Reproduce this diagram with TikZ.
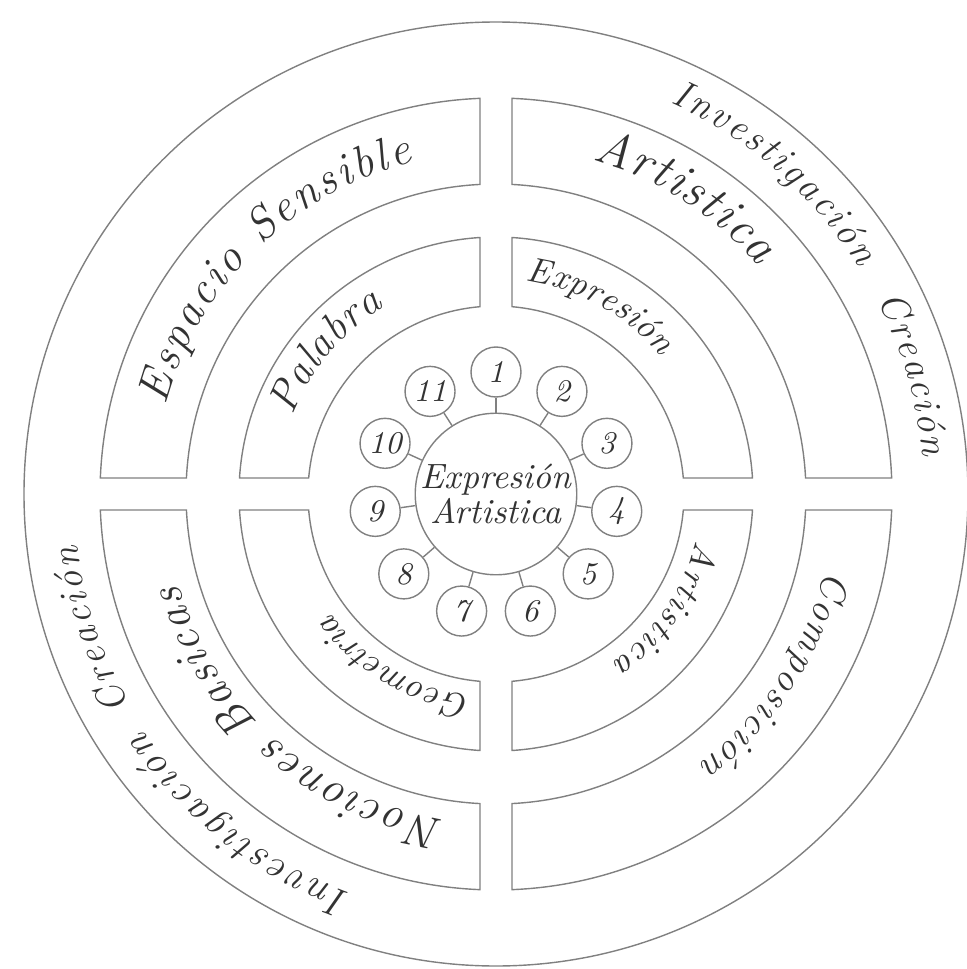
\documentclass[tikz,border=0pt]{standalone}
\usetikzlibrary{decorations.text}

\newcommand{\handsize}[1]{\fontsize{#1}{#1}\selectfont\itshape}

\begin{document}
\begin{tikzpicture}[
  ring/.style={draw=black!50, line width=0.4pt},
  numcirc/.style={circle, draw=black!50, line width=0.4pt, minimum size=0.5cm,
    inner sep=0pt, text=black!80, font=\handsize{9}},
  hub/.style={circle, draw=black!50, line width=0.4pt, minimum size=1.46cm,
    inner sep=0pt, align=center, text=black!80, font=\handsize{10}},
  arclabel/.style 2 args={decorate, decoration={text along path,
    text align=fit to path, text color=black!80, text={|\handsize{#1}|#2}}}
]

% Frame
\useasboundingbox (-4.96,-4.75) rectangle (4.70,4.94);

% Outer circle
\draw[ring] (0,0) circle (4.72);

% Quadrant pieces (outer ring and inner ring)
\foreach \a in {0,90,180,270} {
  \draw[ring] ({\a+acos(0.16/3.10)}:3.10) -- ({\a+acos(0.16/3.96)}:3.96)
    arc[start angle={\a+acos(0.16/3.96)}, end angle={\a+asin(0.16/3.96)}, radius=3.96]
    -- ({\a+asin(0.16/3.10)}:3.10)
    arc[start angle={\a+asin(0.16/3.10)}, end angle={\a+acos(0.16/3.10)}, radius=3.10]
    -- cycle;
  \draw[ring] ({\a+acos(0.16/1.88)}:1.88) -- ({\a+acos(0.16/2.57)}:2.57)
    arc[start angle={\a+acos(0.16/2.57)}, end angle={\a+asin(0.16/2.57)}, radius=2.57]
    -- ({\a+asin(0.16/1.88)}:1.88)
    arc[start angle={\a+asin(0.16/1.88)}, end angle={\a+acos(0.16/1.88)}, radius=1.88]
    -- cycle;
}

% Hub and numbered circles
\node[hub] (c) at (0,0) {Expresión\\Artistica};
\node[numcirc] (n1) at (90:1.22) {1};
\node[numcirc] (n2) at (57.27:1.22) {2};
\node[numcirc] (n3) at (24.55:1.22) {3};
\node[numcirc] (n4) at (-8.18:1.22) {4};
\node[numcirc] (n5) at (-40.91:1.22) {5};
\node[numcirc] (n6) at (-73.64:1.22) {6};
\node[numcirc] (n7) at (-106.36:1.22) {7};
\node[numcirc] (n8) at (-139.09:1.22) {8};
\node[numcirc] (n9) at (-171.82:1.22) {9};
\node[numcirc] (n10) at (155.45:1.22) {10};
\node[numcirc] (n11) at (122.73:1.22) {11};

% Spokes
\draw[ring] (c) -- (n1);
\draw[ring] (c) -- (n2);
\draw[ring] (c) -- (n3);
\draw[ring] (c) -- (n4);
\draw[ring] (c) -- (n5);
\draw[ring] (c) -- (n6);
\draw[ring] (c) -- (n7);
\draw[ring] (c) -- (n8);
\draw[ring] (c) -- (n9);
\draw[ring] (c) -- (n10);
\draw[ring] (c) -- (n11);

% Labels in the outer band
\path[arclabel={11}{Investigación}] (66:4.28) arc[start angle=66, end angle=32, radius=4.28];
\path[arclabel={11}{Creación}] (27:4.28) arc[start angle=27, end angle=5, radius=4.28];
\path[arclabel={11}{Creación}] (-150:4.22) arc[start angle=-150, end angle=-173, radius=4.22];
\path[arclabel={11.5}{Investigación}] (-110:4.25) arc[start angle=-110, end angle=-146, radius=4.25];

% Labels in the outer ring
\path[arclabel={14}{Artistica}] (74:3.48) arc[start angle=74, end angle=41, radius=3.48];
\path[arclabel={13}{Espacio Sensible}] (165:3.42) arc[start angle=165, end angle=104, radius=3.42];
\path[arclabel={11}{Composición}] (-13:3.38) arc[start angle=-13, end angle=-53, radius=3.38];
\path[arclabel={13}{Nociones Basicas}] (-99:3.30) arc[start angle=-99, end angle=-164, radius=3.30];

% Labels in the inner ring
\path[arclabel={12}{Palabra}] (159:2.18) arc[start angle=159, end angle=121, radius=2.18];
\path[arclabel={10}{Expresión}] (82:2.15) arc[start angle=82, end angle=40, radius=2.15];
\path[arclabel={10}{Artistica}] (-13:2.05) arc[start angle=-13, end angle=-55, radius=2.05];
\path[arclabel={10}{Geometria}] (-97:2.04) arc[start angle=-97, end angle=-144, radius=2.04];

\end{tikzpicture}
\end{document}
